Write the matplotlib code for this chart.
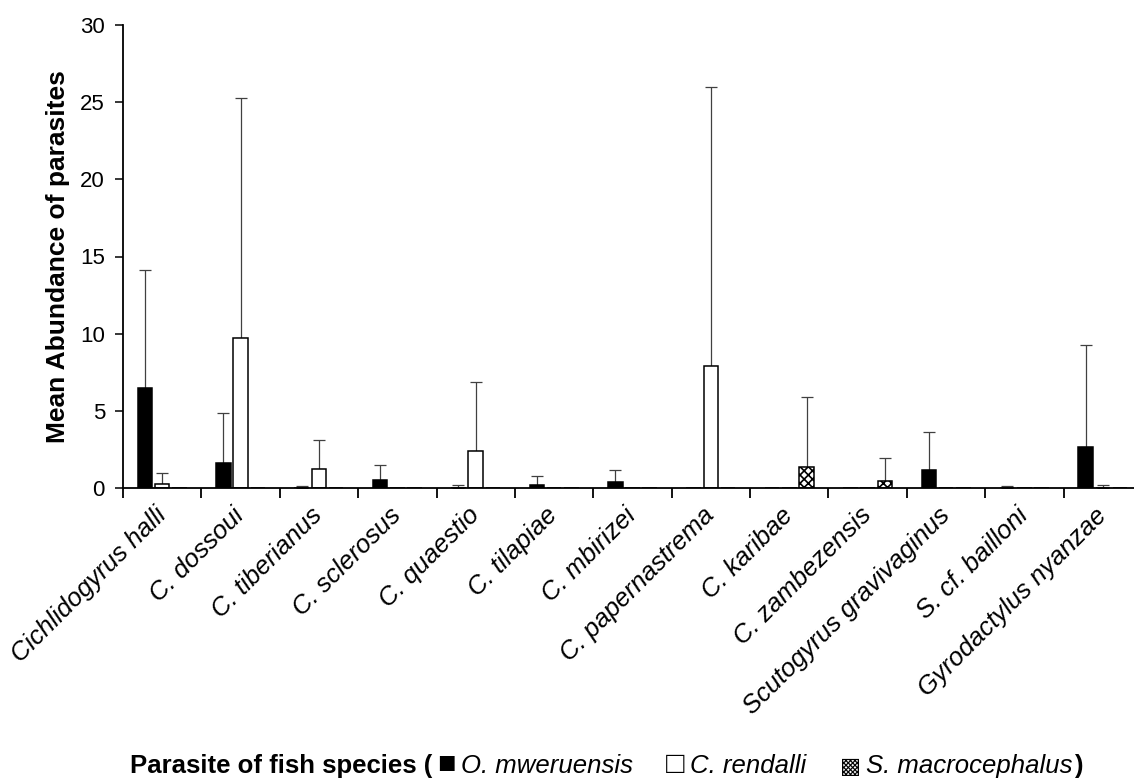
import numpy as np
import matplotlib
matplotlib.use("Agg")
import matplotlib.pyplot as plt
from matplotlib.transforms import ScaledTranslation

# parasite species (x categories)
parasites = [
    "Cichlidogyrus halli", "C. dossoui", "C. tiberianus", "C. sclerosus",
    "C. quaestio", "C. tilapiae", "C. mbirizei", "C. papernastrema",
    "C. karibae", "C. zambezensis", "Scutogyrus gravivaginus",
    "S. cf. bailloni", "Gyrodactylus nyanzae",
]

# mean abundance and upper end of error bar (mean + SD), per host fish
mweruensis_mean = [6.45, 1.6, 0.02, 0.52, 0.02, 0.22, 0.37, 0, 0, 0, 1.17, 0.02, 2.63]
mweruensis_top = [14.15, 4.85, 0.15, 1.5, 0.2, 0.8, 1.19, 0, 0, 0, 3.6, 0.15, 9.26]

rendalli_mean = [0.26, 9.7, 1.22, 0, 2.42, 0, 0, 7.92, 0, 0, 0, 0, 0.03]
rendalli_top = [0.97, 25.3, 3.1, 0, 6.87, 0, 0, 26.0, 0, 0, 0, 0, 0.21]

macro_mean = [0, 0, 0, 0, 0, 0, 0, 0, 1.36, 0.47, 0, 0, 0]
macro_top = [0, 0, 0, 0, 0, 0, 0, 0, 5.87, 1.92, 0, 0, 0]

plt.rcParams["font.family"] = ["Liberation Sans", "DejaVu Sans"]
plt.rcParams["hatch.linewidth"] = 1.2

fig = plt.figure(figsize=(11.34, 7.8), dpi=100)
ax = fig.add_axes([123 / 1134, 292 / 780, 1019 / 1134, 463 / 780])

x = np.arange(len(parasites))
w = 0.185
off = 0.22
err_kw = dict(ecolor="#404040", elinewidth=0.9, capsize=4, capthick=0.9)


def draw(pos, mean, top, **style):
    mean = np.array(mean, dtype=float)
    top = np.array(top, dtype=float)
    has = top > 0
    ax.bar(pos, mean, width=w, edgecolor="black", linewidth=1.1, zorder=2, **style)
    upper = np.where(has, top - mean, 0)
    ax.errorbar(pos[has], mean[has], yerr=[np.zeros(has.sum()), upper[has]],
                fmt="none", zorder=1, **err_kw)


draw(x - off, mweruensis_mean, mweruensis_top, color="black")
draw(x, rendalli_mean, rendalli_top, color="white")
draw(x + off, macro_mean, macro_top, color="white", hatch="xxxx")

ax.set_xlim(-0.5, len(parasites) - 0.5)
ax.set_ylim(0, 30)
ax.set_yticks(range(0, 31, 5))
ax.tick_params(axis="y", labelsize=16, length=6, width=1.1, pad=7, direction="out")

ax.set_xticks(x)
ax.set_xticklabels(parasites, rotation=45, ha="right", va="center",
                   rotation_mode="anchor", fontsize=18.5, style="italic")
shift = ScaledTranslation(4 / 100, 0, fig.dpi_scale_trans)
for lab in ax.get_xticklabels():
    lab.set_transform(lab.get_transform() + shift)
ax.set_xticks(np.arange(-0.5, len(parasites), 1), minor=True)
ax.tick_params(axis="x", which="major", length=0, pad=17)
ax.tick_params(axis="x", which="minor", length=7, width=1.3, direction="out")

for s in ["top", "right"]:
    ax.spines[s].set_visible(False)
for s in ["left", "bottom"]:
    ax.spines[s].set_linewidth(1.3)

ax.set_ylabel("Mean Abundance of parasites", fontsize=19, fontweight="bold")
ax.yaxis.set_label_coords(-0.052, 0.5)

# x axis title with inline legend symbols: (text, gap before in px, style)
pieces = [
    ("Parasite of fish species (", 0, dict(fontweight="bold")),
    ("\u25a0", 5, dict(fontsize=22)),
    ("O. mweruensis", 5, dict(style="italic")),
    ("\u25a1", 33, dict(fontsize=22)),
    ("C. rendalli", 6, dict(style="italic")),
    ("\u25a9", 34, dict(family=["DejaVu Sans"], fontsize=16)),
    ("S. macrocephalus", 5, dict(style="italic")),
    (")", 1, dict(fontweight="bold")),
]
renderer = fig.canvas.get_renderer()
xpos = 130
for txt, gap, kw in pieces:
    kw = dict(kw)
    fs = kw.pop("fontsize", 18.5)
    t = fig.text((xpos + gap) / 1134, 7 / 780, txt, fontsize=fs, va="baseline", **kw)
    xpos = t.get_window_extent(renderer).x1

fig.savefig("out.png", dpi=100)
